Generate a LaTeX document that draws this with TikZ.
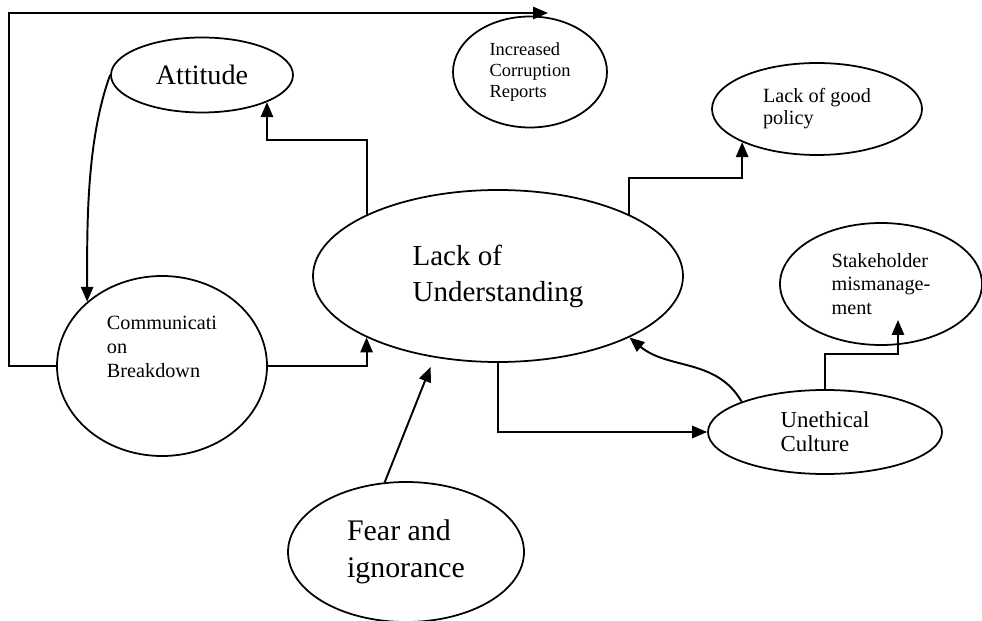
\documentclass[tikz,border=0pt]{standalone}
\usepackage{fontspec}
\setmainfont{Liberation Serif}
\usetikzlibrary{arrows.meta,shapes.geometric}

\tikzset{
  bubble/.style={ellipse, draw, line width=1pt, inner sep=0pt, align=left},
  link/.style={-{Triangle[length=8.5pt,width=7pt]}, line width=1.1pt}
}

\begin{document}
\begin{tikzpicture}
                \useasboundingbox (0,0) rectangle (19.64,-12.42);

                \node (att) [bubble, minimum width=3.64cm, minimum height=1.5cm,
                    font=\fontsize{16}{19}\selectfont] at (4.04,-1.5) {Attitude};
                \node (icr) [bubble, minimum width=3.08cm, minimum height=2.22cm,
                    font=\fontsize{10.5}{12}\selectfont] at (10.6,-1.44) {Increased\\Corruption\\Reports};
                \node (pol) [bubble, minimum width=4.2cm, minimum height=1.84cm,
                    font=\fontsize{11.5}{12.5}\selectfont] at (16.34,-2.18) {Lack of good\\policy};
                \node (lou) [bubble, minimum width=7.4cm, minimum height=3.44cm,
                    font=\fontsize{16.5}{20.4}\selectfont] at (9.96,-5.52) {Lack of\\Understanding};
                \node (stk) [bubble, minimum width=4.04cm, minimum height=2.44cm,
                    font=\fontsize{11.5}{13.6}\selectfont] at (17.62,-5.68) {Stakeholder\\mismanage-\\ment};
                \node (cb) [bubble, minimum width=4.2cm, minimum height=3.6cm,
                    font=\fontsize{11.5}{13.9}\selectfont] at (3.24,-7.32) {Communicati\\on\\Breakdown\\[8pt]\mbox{}};
                \node (uc) [bubble, minimum width=4.68cm, minimum height=1.68cm,
                    font=\fontsize{13}{13.6}\selectfont] at (16.5,-8.64) {Unethical\\Culture};
                \node (fi) [bubble, minimum width=4.72cm, minimum height=2.8cm,
                    font=\fontsize{17}{21}\selectfont] at (8.12,-11.04) {Fear and\\ignorance};

                \coordinate (icrtop) at (10.96,-0.26);
                \coordinate (stkin) at (17.96,-6.4);

                \draw [link] (cb.west) -- ++(-0.94,0) |- (icrtop);
                \draw [link] (att.west) to [out=-110, in=90, looseness=0.8] (cb.north west);
                \draw [link] (lou.north west) -- ++(0,1.5) -| (att.south east);
                \draw [link] (lou.north east) -- ++(0,0.74) -| (pol.south west);
                \draw [link] (cb.east) -| (lou.south west);
                \draw [link, shorten >=0.2cm] (fi.107) -- (lou.232);
                \draw [link] (lou.south) |- (uc.west);
                \draw [link] (uc.north west) to [out=120, in=-40] (lou.south east);
                \draw [link] (uc.north) -- ++(0,0.7) -| (stkin);
            \end{tikzpicture}
\end{document}
